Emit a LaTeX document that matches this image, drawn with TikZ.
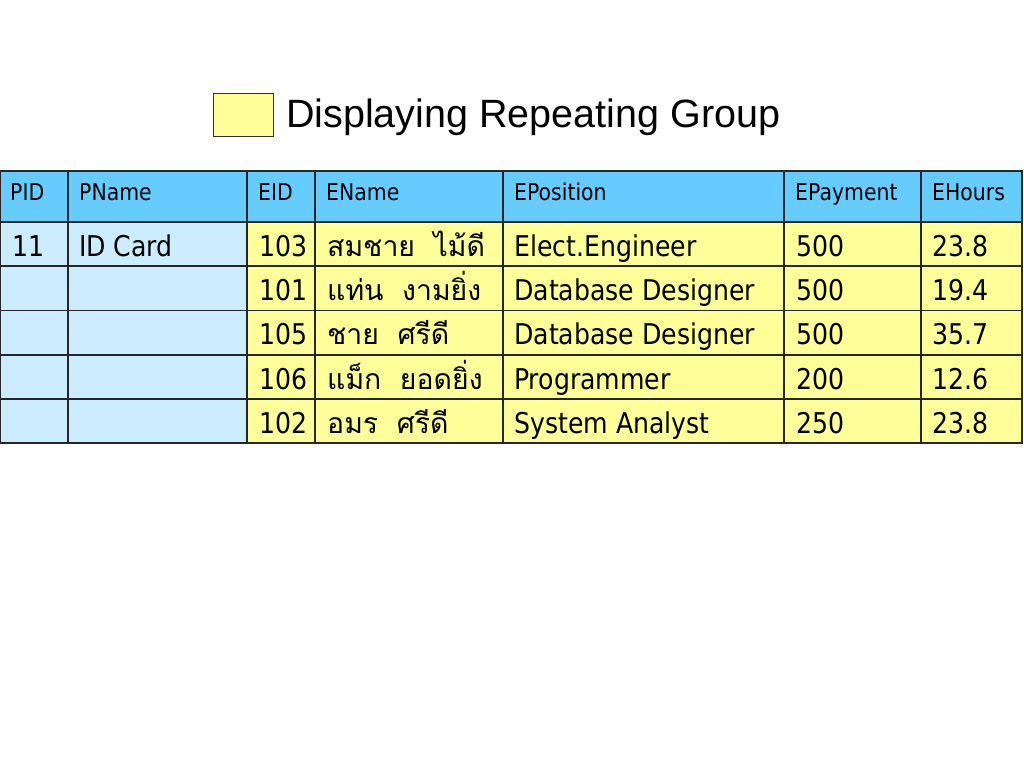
\documentclass[tikz,border=0pt]{standalone}
\usepackage{fontspec}
\setmainfont{DejaVu Sans}[FakeStretch=0.88]
\newfontfamily\thaifont[Script=Thai]{Loma}
\newfontfamily\titlefont{Liberation Sans}
\definecolor{hdrblue}{RGB}{102,204,255}
\definecolor{keyblue}{RGB}{204,236,255}
\definecolor{grpyellow}{RGB}{255,255,153}
\tikzset{
  hdr/.style={anchor=base west,inner sep=0pt,font=\fontsize{23.2}{24}\selectfont},
  cell/.style={anchor=base west,inner sep=0pt,font=\fontsize{28.6}{30}\selectfont},
  thcell/.style={anchor=base west,inner sep=0pt,font=\thaifont\fontsize{28.4}{30}\selectfont},
  grid/.style={line width=1.6pt,draw=black!85},
  border/.style={line width=2.8pt,draw=black!85},
}
\begin{document}
\begin{tikzpicture}[x=1pt,y=-1pt]
\useasboundingbox (0,0) rectangle (1024,768);
% title
\node[draw=black!80,line width=0.8pt,fill=grpyellow,minimum width=60pt,minimum height=43pt,inner sep=0pt,anchor=north west] (legend) at (213,93) {};
\node[anchor=base west,inner sep=0pt,font=\titlefont\fontsize{39.5}{42}\selectfont] (title) at (286,127) {Displaying Repeating Group};
% fills
\fill[hdrblue] (0,171) rectangle (1022,222);
\fill[keyblue] (0,222) rectangle (247,443);
\fill[grpyellow] (247,222) rectangle (1022,443);
% grid
\foreach \y in {222,266,310.5,355,399} \draw[grid] (0,\y) -- (1022,\y);
\foreach \x in {68,247,315,503,784,921} \draw[grid] (\x,171) -- (\x,443);
\draw[border] (0,171) rectangle (1022,443);
% header
\node[hdr] (hPID) at (10,200) {PID};
\node[hdr] (hPName) at (79,200) {PName};
\node[hdr] (hEID) at (258,200) {EID};
\node[hdr] (hEName) at (326,200) {EName};
\node[hdr] (hEPos) at (514,200) {EPosition};
\node[hdr] (hEPay) at (795,200) {EPayment};
\node[hdr] (hEHrs) at (932,200) {EHours};
% row 1
\node[cell] (pid) at (12,256) {11};
\node[cell] (pname) at (79,256) {ID Card};
\node[cell] (e1) at (259,256) {103};
\node[thcell] (n1) at (327,256) {สมชาย\hspace{9pt} ไม้ดี};
\node[cell] (p1) at (514,256) {Elect.Engineer};
\node[cell] (m1) at (796,256) {500};
\node[cell] (h1) at (932,256) {23.8};
% row 2
\node[cell] (e2) at (259,300) {101};
\node[thcell] (n2) at (327,300) {แท่น\hspace{9pt} งามยิ่ง};
\node[cell] (p2) at (514,300) {Database Designer};
\node[cell] (m2) at (796,300) {500};
\node[cell] (h2) at (932,300) {19.4};
% row 3
\node[cell] (e3) at (259,344.5) {105};
\node[thcell] (n3) at (327,344.5) {ชาย\hspace{9pt} ศรีดี};
\node[cell] (p3) at (514,344.5) {Database Designer};
\node[cell] (m3) at (796,344.5) {500};
\node[cell] (h3) at (932,344.5) {35.7};
% row 4
\node[cell] (e4) at (259,389) {106};
\node[thcell] (n4) at (327,389) {แม็ก\hspace{9pt} ยอดยิ่ง};
\node[cell] (p4) at (514,389) {Programmer};
\node[cell] (m4) at (796,389) {200};
\node[cell] (h4) at (932,389) {12.6};
% row 5
\node[cell] (e5) at (259,433) {102};
\node[thcell] (n5) at (327,433) {อมร\hspace{9pt} ศรีดี};
\node[cell] (p5) at (514,433) {System Analyst};
\node[cell] (m5) at (796,433) {250};
\node[cell] (h5) at (932,433) {23.8};
\end{tikzpicture}
\end{document}
